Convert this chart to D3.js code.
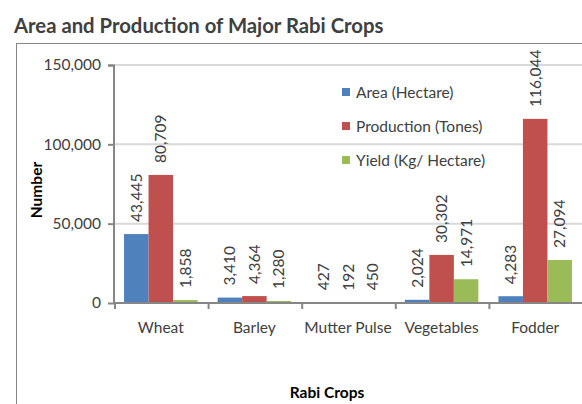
<!DOCTYPE html>
<html>
<head>
<meta charset="utf-8">
<script src="https://cdn.jsdelivr.net/npm/d3@7"></script>
<style>
  body { margin: 0; background: #fff; }
  text { font-family: Lato, "Noto Sans", sans-serif; fill: #404040; }
</style>
</head>
<body>
<div id="chart"></div>
<script>
// Data
var crops = ["Wheat", "Barley", "Mutter Pulse", "Vegetables", "Fodder"];
var seriesNames = ["Area (Hectare)", "Production (Tones)", "Yield (Kg/ Hectare)"];
var area = [43445, 3410, 427, 2024, 4283];
var production = [80709, 4364, 192, 30302, 116044];
var yieldKg = [1858, 1280, 450, 14971, 27094];
var yTicks = [0, 50000, 100000, 150000];
var colors = ["#4f81bd", "#c0504d", "#9bbb59"];

var svgWidth = 582;
var svgHeight = 404;
var margin = { top: 65, right: 0, bottom: 101, left: 114 };
var width = svgWidth - margin.left - margin.right;
var height = svgHeight - margin.top - margin.bottom;
var fs = 15.5;

var svg = d3.select("#chart")
  .append("svg")
  .attr("width", svgWidth)
  .attr("height", svgHeight);

// chart frame
svg.append("rect")
  .attr("x", 16.5).attr("y", 43.5)
  .attr("width", 600).attr("height", 400)
  .attr("fill", "none")
  .attr("stroke", "#868686");

// title
svg.append("text")
  .attr("x", 14).attr("y", 32.5)
  .attr("font-size", 20.3).attr("font-weight", "bold")
  .text("Area and Production of Major Rabi Crops");

var chartGroup = svg.append("g")
  .attr("transform", `translate(${margin.left}, ${margin.top})`);

var rows = crops.map(function(c, i) {
  return { crop: c, values: [area[i], production[i], yieldKg[i]] };
});

// Scales
var x0 = d3.scaleBand().domain(crops).range([0, width]).padding(0);
var x1 = d3.scaleBand().domain(d3.range(3))
  .range([0, x0.bandwidth()])
  .paddingInner(0).paddingOuter(0.41);
var y = d3.scaleLinear().domain([0, 150000]).range([height, 0]);

// gridlines
chartGroup.selectAll(".grid")
  .data(yTicks.slice(1))
  .enter().append("line")
  .attr("x1", 0).attr("x2", width)
  .attr("y1", function(d) { return y(d); })
  .attr("y2", function(d) { return y(d); })
  .attr("stroke", "#d9d9d9").attr("stroke-width", 2);

// bars
var groups = chartGroup.selectAll(".crop")
  .data(rows)
  .enter().append("g")
  .attr("transform", function(d) { return `translate(${x0(d.crop)},0)`; });

groups.selectAll("rect")
  .data(function(d) { return d.values; })
  .enter().append("rect")
  .attr("x", function(d, i) { return x1(i); })
  .attr("y", function(d) { return y(d); })
  .attr("width", x1.bandwidth())
  .attr("height", function(d) { return height - y(d); })
  .attr("fill", function(d, i) { return colors[i]; });

// value labels
groups.selectAll(".lbl")
  .data(function(d) { return d.values; })
  .enter().append("text")
  .attr("transform", function(d, i) {
    return `translate(${x1(i) + x1.bandwidth() / 2 + 5.5},${y(d) - 12}) rotate(-90)`;
  })
  .attr("font-size", fs)
  .text(function(d) { return d3.format(",")(d); });

// Axes
var leftAxis = d3.axisLeft(y).tickValues(yTicks).tickFormat(d3.format(",")).tickSize(6).tickPadding(7);
var yAxisG = chartGroup.append("g").call(leftAxis);
yAxisG.select(".domain").attr("stroke", "#868686").attr("stroke-width", 2).attr("d", `M-6,0.5H0V${height}`);
yAxisG.selectAll(".tick line").attr("stroke", "#868686").attr("stroke-width", 2);
yAxisG.selectAll("text").attr("font-size", fs).attr("font-family", "Lato").attr("fill", "#404040");

var xAxisG = chartGroup.append("g").attr("transform", `translate(0, ${height})`);
xAxisG.append("line")
  .attr("x1", 0).attr("x2", width)
  .attr("stroke", "#868686").attr("stroke-width", 2);
xAxisG.selectAll(".xt")
  .data(crops)
  .enter().append("line")
  .attr("x1", function(d) { return x0(d) + 1; })
  .attr("x2", function(d) { return x0(d) + 1; })
  .attr("y1", 0).attr("y2", 6)
  .attr("stroke", "#868686").attr("stroke-width", 2);
xAxisG.selectAll(".xl")
  .data(crops)
  .enter().append("text")
  .attr("x", function(d) { return x0(d) + x0.bandwidth() / 2; })
  .attr("y", 30)
  .attr("text-anchor", "middle")
  .attr("font-size", fs)
  .text(function(d) { return d; });

// axis titles
svg.append("text")
  .attr("transform", "translate(42,190) rotate(-90)")
  .attr("text-anchor", "middle")
  .attr("font-size", fs).attr("font-weight", "bold")
  .style("fill", "#000")
  .text("Number");

svg.append("text")
  .attr("x", 327).attr("y", 398)
  .attr("text-anchor", "middle")
  .attr("font-size", fs).attr("font-weight", "bold")
  .style("fill", "#000")
  .text("Rabi Crops");

// legend
var legend = svg.append("g").attr("transform", "translate(342, 92)");
seriesNames.forEach(function(name, i) {
  var row = legend.append("g").attr("transform", `translate(0, ${i * 34})`);
  row.append("rect").attr("x", 0).attr("y", -4).attr("width", 8).attr("height", 8).attr("fill", colors[i]);
  row.append("text").attr("x", 14).attr("y", 5.5).attr("font-size", fs).text(name);
});
</script>
</body>
</html>
